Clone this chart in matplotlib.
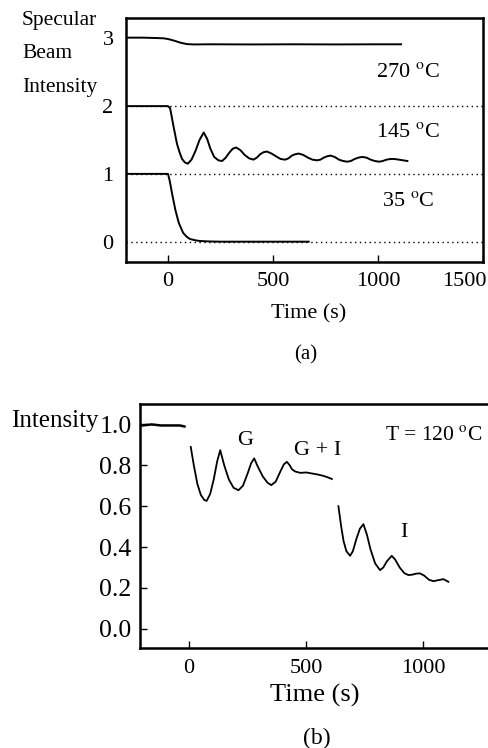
import matplotlib
matplotlib.use('Agg')
import matplotlib.pyplot as plt
from matplotlib.transforms import ScaledTranslation

plt.rcParams['font.family'] = ['Liberation Serif', 'DejaVu Serif']
plt.rcParams['mathtext.fontset'] = 'stix'

# ---- panel (a): specular beam intensity, curves offset by 1 ----
t_270 = [-200, -120, -60, -20, 0, 30, 60, 90, 120, 200, 400, 600, 800, 1000, 1110]
v_270 = [3.01, 3.01, 3.005, 3.0, 2.99, 2.965, 2.935, 2.915, 2.91, 2.912, 2.91, 2.912, 2.91, 2.912, 2.912]

t_145 = [-200, -100, 0, 10, 27, 43, 55, 67, 80, 94, 112, 131, 150, 170, 186, 202,
         220, 240, 258, 275, 291, 308, 324, 345, 365, 386, 407, 423, 439, 455, 471,
         493, 514, 536, 558, 574, 590, 606, 622, 644, 666, 688, 710, 726, 742, 758,
         774, 794, 814, 834, 853, 871, 889, 907, 925, 945, 965, 985, 1005, 1023,
         1041, 1059, 1077, 1100, 1120, 1140]
v_145 = [2.0, 2.0, 2.0, 1.97, 1.69, 1.44, 1.32, 1.22, 1.17, 1.15, 1.21, 1.34, 1.50, 1.61, 1.52, 1.37,
         1.25, 1.20, 1.19, 1.24, 1.31, 1.37, 1.39, 1.35, 1.28, 1.23, 1.21, 1.24, 1.29, 1.32, 1.33,
         1.30, 1.26, 1.22, 1.21, 1.23, 1.27, 1.29, 1.30, 1.28, 1.24, 1.21, 1.20, 1.21, 1.24, 1.26,
         1.27, 1.25, 1.21, 1.19, 1.18, 1.19, 1.22, 1.24, 1.25, 1.24, 1.21, 1.19, 1.18, 1.19,
         1.21, 1.22, 1.22, 1.21, 1.20, 1.19]

t_35 = [-200, -100, 0, 8, 20, 35, 51, 72, 90, 104, 130, 152, 200, 250, 400, 670]
v_35 = [1.0, 1.0, 1.0, 0.90, 0.70, 0.47, 0.28, 0.13, 0.07, 0.04, 0.02, 0.01, 0.003, 0.0, 0.0, 0.0]

baselines_a = [0, 1, 2]
labels_a = [r'270 $^{\mathrm{o}}$C', r'145 $^{\mathrm{o}}$C', r'35 $^{\mathrm{o}}$C']
label_y_a = [2.49, 1.61, 0.60]

# ---- panel (b): intensity at 120 C, three segments ----
t_b0 = [-200, -160, -120, -80, -40, -20]
v_b0 = [0.995, 1.0, 0.995, 0.995, 0.995, 0.99]

t_b1 = [7, 20, 35, 50, 65, 75, 90, 105, 120, 133, 150, 170, 190, 211, 230, 250, 265, 278,
        295, 315, 335, 351, 370, 390, 405, 418, 430, 440, 453, 475, 500, 525, 550, 575, 600, 610]
v_b1 = [0.89, 0.80, 0.71, 0.655, 0.63, 0.626, 0.66, 0.73, 0.82, 0.874, 0.80, 0.73, 0.69, 0.678,
        0.70, 0.76, 0.81, 0.834, 0.79, 0.745, 0.715, 0.703, 0.72, 0.77, 0.805, 0.817, 0.80, 0.78,
        0.77, 0.763, 0.765, 0.76, 0.755, 0.748, 0.738, 0.733]

t_b2 = [638, 650, 660, 672, 688, 700, 715, 730, 745, 760, 775, 795, 816, 830, 845, 866, 880,
        900, 920, 937, 955, 970, 987, 1005, 1025, 1044, 1065, 1087, 1100, 1108]
v_b2 = [0.60, 0.50, 0.43, 0.38, 0.357, 0.38, 0.44, 0.49, 0.512, 0.46, 0.39, 0.32, 0.287, 0.30,
        0.33, 0.357, 0.34, 0.30, 0.272, 0.263, 0.265, 0.27, 0.271, 0.26, 0.24, 0.233, 0.238,
        0.243, 0.235, 0.23]

W, H = 489, 748
fig = plt.figure(figsize=(W / 100, H / 100), dpi=100)

# panel (a)
ax1 = fig.add_axes([126 / W, 1 - 262 / H, 357 / W, 244 / H])
for b in baselines_a:
    ax1.axhline(b, color='black', linestyle=(0, (1, 2.5)), linewidth=1.0, zorder=1)
ax1.plot(t_270, v_270, color='black', linewidth=1.4, zorder=2)
ax1.plot(t_145, v_145, color='black', linewidth=1.4, zorder=2)
ax1.plot(t_35, v_35, color='black', linewidth=1.4, zorder=2)
ax1.set_xlim(-200, 1500)
ax1.set_ylim(-0.3, 3.3)
ax1.set_xticks([0, 500, 1000, 1500])
ax1.set_yticks([0, 1, 2, 3])
ax1.tick_params(direction='in', length=5, width=1, labelsize=16, pad=7)
ax1.tick_params(axis='y', length=0, pad=9)
# last tick label sits left of its tick in the original
last = ax1.get_xticklabels()[-1]
last.set_horizontalalignment('right')
last.set_transform(last.get_transform() + ScaledTranslation(4 / 100, 0, fig.dpi_scale_trans))
for s in ax1.spines.values():
    s.set_linewidth(1.8)
for lab, y in zip(labels_a, label_y_a):
    ax1.text(1142, y, lab, ha='center', va='center', fontsize=16)

fig.text(22 / W, 1 - 25 / H, 'Specular', fontsize=15.5, va='baseline', ha='left')
fig.text(22 / W, 1 - 58 / H, 'Beam', fontsize=15.5, va='baseline', ha='left')
fig.text(22 / W, 1 - 92 / H, 'Intensity', fontsize=15.5, va='baseline', ha='left')
fig.text(309 / W, 1 - 314 / H, 'Time (s)', fontsize=16, ha='center', va='center')
fig.text(306 / W, 1 - 355 / H, '(a)', fontsize=15, ha='center', va='center')

# panel (b)
ax2 = fig.add_axes([140 / W, 1 - 648 / H, 350 / W, 244 / H])
ax2.plot(t_b0, v_b0, color='black', linewidth=1.8)
ax2.plot(t_b1, v_b1, color='black', linewidth=1.3)
ax2.plot(t_b2, v_b2, color='black', linewidth=1.3)
ax2.set_xlim(-210, 1286)
ax2.set_ylim(-0.094, 1.10)
ax2.set_xticks([0, 500, 1000])
ax2.set_yticks([0.0, 0.2, 0.4, 0.6, 0.8, 1.0])
ax2.set_yticklabels(['0.0', '0.2', '0.4', '0.6', '0.8', '1.0'])
ax2.tick_params(direction='in', length=5, width=1)
ax2.tick_params(axis='x', labelsize=16, pad=8)
ax2.tick_params(axis='y', labelsize=18.5, pad=6)
ax2.spines['right'].set_visible(False)
for s in ['left', 'top', 'bottom']:
    ax2.spines[s].set_linewidth(1.8)
ax2.text(239, 0.923, 'G', ha='center', va='center', fontsize=16)
ax2.text(551, 0.874, 'G + I', ha='center', va='center', fontsize=16)
ax2.text(1045, 0.948, r'T = 120 $^{\mathrm{o}}$C', ha='center', va='center', fontsize=15.5)
ax2.text(919, 0.473, 'I', ha='center', va='center', fontsize=16)

fig.text(11 / W, 1 - 427 / H, 'Intensity', fontsize=18, va='baseline', ha='left')
fig.text(315 / W, 1 - 695 / H, 'Time (s)', fontsize=19, ha='center', va='center')
fig.text(317 / W, 1 - 738 / H, '(b)', fontsize=17, ha='center', va='center')

fig.savefig('out.png', dpi=100)
